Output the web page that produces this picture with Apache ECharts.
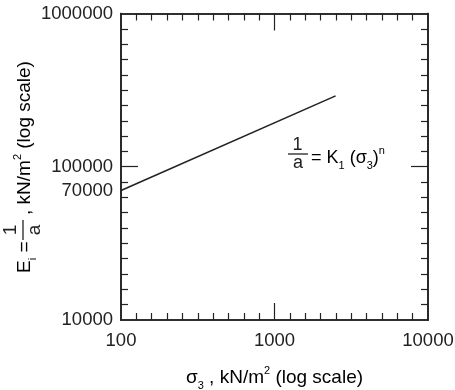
<!DOCTYPE html>
<html><head><meta charset="utf-8">
<script src="https://cdn.jsdelivr.net/npm/echarts@6/dist/echarts.min.js"></script>
<style>html,body{margin:0;padding:0;background:#fff}#c{width:455px;height:390px}</style>
</head><body><div id="c"></div>
<script>
// ---- data ----
const xRange = [100, 10000];
const yRange = [10000, 1000000];
const sigma3 = [100, 2500];
const Ei = [70000, 290000];
const xTickLabels = [100, 1000, 10000];
const yTickLabels = [10000, 70000, 100000, 1000000];
const xMajorTicks = [1000];
const yMajorTicks = [100000];

// minor tick marks: ten equal steps per decade (as drawn in the reference)
function minorTicks(range) {
  const out = [];
  const e0 = Math.round(Math.log10(range[0])), e1 = Math.round(Math.log10(range[1]));
  for (let e = e0; e < e1; e++) for (let k = 1; k < 10; k++) out.push(Math.pow(10, e + k / 10));
  return out;
}
const xMinorTicks = minorTicks(xRange);
const yMinorTicks = minorTicks(yRange);

const FONT = "'Liberation Sans', Arial, Helvetica, sans-serif";
const INK = '#222';

const chart = echarts.init(document.getElementById('c'), null, {renderer: 'canvas'});

function axis(o) {
  return {
    type: 'log', logBase: 10, min: o.range[0], max: o.range[1], position: o.position,
    axisLine: {show: true, onZero: false, lineStyle: {color: INK, width: 1.6}},
    axisTick: {show: true, inside: true, length: o.len, customValues: o.ticks,
      lineStyle: {color: INK, width: 1.2}},
    minorTick: {show: false},
    splitLine: {show: false},
    minorSplitLine: {show: false},
    axisLabel: o.labels ? {show: true, fontSize: 18.5, fontFamily: FONT, color: INK,
      margin: o.margin, customValues: o.labels, formatter: v => String(Math.round(v))} : {show: false}
  };
}

const richMain = (size) => ({
  m: {fontSize: size, fontFamily: FONT, color: INK, lineHeight: 26, verticalAlign: 'middle'},
  s: {fontSize: Math.round(size * 0.6), fontFamily: FONT, color: INK, lineHeight: 11, verticalAlign: 'bottom'},
  p: {fontSize: Math.round(size * 0.6), fontFamily: FONT, color: INK, lineHeight: 11, verticalAlign: 'top'}
});

const option = {
  animation: false,
  backgroundColor: '#fff',
  grid: {left: 121, right: 27, top: 13.5, bottom: 70, containLabel: false, outerBoundsMode: 'none'},
  xAxis: [
    axis({range: xRange, position: 'bottom', len: 7, ticks: xMinorTicks, labels: xTickLabels, margin: 11}),
    axis({range: xRange, position: 'top', len: 7, ticks: xMinorTicks}),
    axis({range: xRange, position: 'bottom', len: 17, ticks: xMajorTicks}),
    axis({range: xRange, position: 'top', len: 17, ticks: xMajorTicks})
  ],
  yAxis: [
    axis({range: yRange, position: 'left', len: 7, ticks: yMinorTicks, labels: yTickLabels, margin: 8}),
    axis({range: yRange, position: 'right', len: 7, ticks: yMinorTicks}),
    axis({range: yRange, position: 'left', len: 17, ticks: yMajorTicks}),
    axis({range: yRange, position: 'right', len: 17, ticks: yMajorTicks})
  ],
  series: [{
    type: 'line', xAxisIndex: 0, yAxisIndex: 0,
    data: sigma3.map((x, i) => [x, Ei[i]]),
    symbol: 'none', silent: true,
    lineStyle: {color: INK, width: 1.6}
  }],
  graphic: [
    // x axis title
    {type: 'text', x: 274.5, y: 378, silent: true,
      style: {text: '{m|σ}{s|3}{m| , kN/m}{p|2}{m| (log scale)}', align: 'center', verticalAlign: 'middle',
        rich: richMain(19)}},
    // y axis title (rotated)
    {type: 'group', x: 25, y: 273, rotation: Math.PI / 2, silent: true, children: [
      {type: 'text', x: 0, y: 0,
        style: {text: '{m|E}{s|i}{m| =}', align: 'left', verticalAlign: 'middle', rich: richMain(19)}},
      {type: 'text', x: 43, y: -14,
        style: {text: '1', fontSize: 19, fontFamily: FONT, fill: INK, align: 'center', verticalAlign: 'middle'}},
      {type: 'line', shape: {x1: 33, y1: -2, x2: 53, y2: -2}, style: {stroke: INK, lineWidth: 1.3}},
      {type: 'text', x: 43, y: 9.5,
        style: {text: 'a', fontSize: 19, fontFamily: FONT, fill: INK, align: 'center', verticalAlign: 'middle'}},
      {type: 'text', x: 58, y: 0,
        style: {text: '{m|, kN/m}{p|2}{m| (log scale)}', align: 'left', verticalAlign: 'middle', rich: richMain(19)}}
    ]},
    // equation annotation
    {type: 'text', x: 297.5, y: 145, silent: true,
      style: {text: '1', fontSize: 18, fontFamily: FONT, fill: INK, align: 'center', verticalAlign: 'middle'}},
    {type: 'line', silent: true, shape: {x1: 288, y1: 154, x2: 308, y2: 154}, style: {stroke: INK, lineWidth: 1.3}},
    {type: 'text', x: 298, y: 163.5, silent: true,
      style: {text: 'a', fontSize: 18, fontFamily: FONT, fill: INK, align: 'center', verticalAlign: 'middle'}},
    {type: 'text', x: 311, y: 158.5, silent: true,
      style: {text: '{m|= K}{s|1}{m| (σ}{s|3}{m|)}{p|n}', align: 'left', verticalAlign: 'middle', rich: richMain(18)}}
  ]
};
chart.setOption(option);
</script>
</body></html>
